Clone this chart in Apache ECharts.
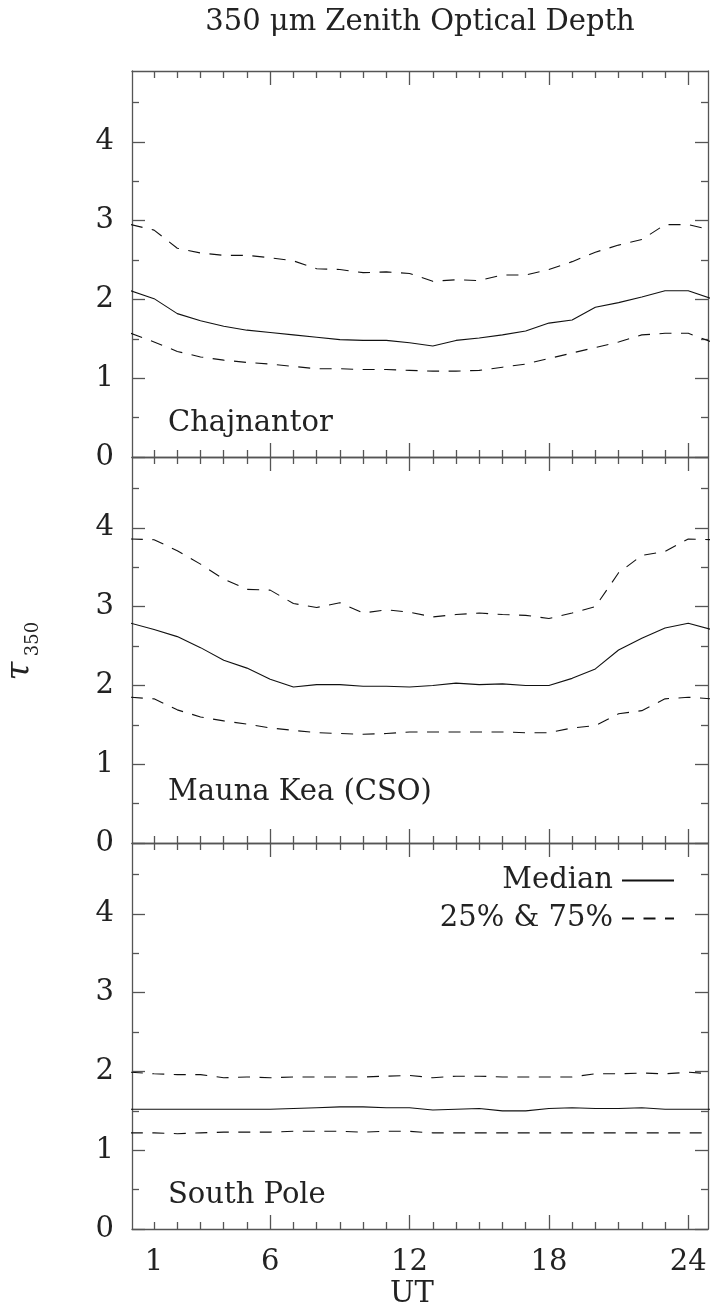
<!DOCTYPE html>
<html>
<head>
<meta charset="utf-8">
<script src="https://cdn.jsdelivr.net/npm/echarts@6/dist/echarts.min.js"></script>
<style>
html,body{margin:0;padding:0;background:#fff}
#chart{width:710px;height:1311px}
</style>
</head>
<body>
<div id="chart"></div>
<script>
// hourly values, UT 1..24
var chajMedian = [2.01,1.82,1.73,1.66,1.61,1.58,1.55,1.52,1.49,1.48,1.48,1.45,1.41,1.48,1.51,1.55,1.60,1.70,1.74,1.90,1.96,2.03,2.11,2.11];
var chajQ75 = [2.88,2.65,2.59,2.56,2.56,2.53,2.49,2.39,2.38,2.34,2.35,2.33,2.23,2.25,2.24,2.31,2.31,2.38,2.48,2.60,2.69,2.76,2.95,2.95];
var chajQ25 = [1.46,1.34,1.27,1.23,1.20,1.18,1.15,1.12,1.12,1.11,1.11,1.10,1.09,1.09,1.10,1.14,1.18,1.25,1.32,1.39,1.46,1.55,1.57,1.57];

var mkMedian = [2.71,2.62,2.48,2.32,2.22,2.08,1.98,2.01,2.01,1.99,1.99,1.98,2.00,2.03,2.01,2.02,2.00,2.00,2.09,2.21,2.45,2.60,2.73,2.79];
var mkQ75 = [3.85,3.71,3.54,3.35,3.22,3.21,3.04,2.99,3.05,2.92,2.96,2.93,2.87,2.90,2.92,2.90,2.89,2.85,2.92,3.00,3.43,3.65,3.70,3.86];
var mkQ25 = [1.83,1.69,1.60,1.55,1.51,1.46,1.43,1.40,1.39,1.38,1.39,1.41,1.41,1.41,1.41,1.41,1.40,1.40,1.46,1.49,1.64,1.68,1.83,1.85];

var spMedian = [1.52,1.52,1.52,1.52,1.52,1.52,1.53,1.54,1.55,1.55,1.54,1.54,1.51,1.52,1.53,1.50,1.50,1.53,1.54,1.53,1.53,1.54,1.52,1.52];
var spQ75 = [1.97,1.96,1.96,1.92,1.93,1.92,1.93,1.93,1.93,1.93,1.94,1.95,1.92,1.94,1.94,1.93,1.93,1.93,1.93,1.97,1.97,1.98,1.97,1.99];
var spQ25 = [1.22,1.21,1.22,1.23,1.23,1.23,1.24,1.24,1.24,1.23,1.24,1.24,1.22,1.22,1.22,1.22,1.22,1.22,1.22,1.22,1.22,1.22,1.22,1.22];

var sites = ['Chajnantor', 'Mauna Kea (CSO)', 'South Pole'];

// ticks / labels
var xMinor = [1,2,3,4,5,7,8,9,10,11,13,14,15,16,17,19,20,21,22,23];
var xMajor = [6,12,18,24];
var xLabels = [1,6,12,18,24];
var yMinor = [0.5,1.5,2.5,3.5,4.5];
var yMajor = [0,1,2,3,4];

var FONT = 'DejaVu Serif';
var FS = 29;
var TXT = '#222';
var INK = '#111';
var AXIS = '#555';

var chart = echarts.init(document.getElementById('chart'));

// day wraps round: hour 0 = hour 24, hour 25 = hour 1
function wrap(v){
    var out = [[0, v[23]]];
    for (var i = 0; i < v.length; i++) out.push([i + 1, v[i]]);
    out.push([25, v[0]]);
    return out;
}

var grids = [], xAxes = [], yAxes = [], series = [];
var panelTop = [71, 457, 843];

function xAx(g, pos, ticks, len, line, labels){
    return {
        type: 'value', gridIndex: g, position: pos, min: 0.05, max: 24.85,
        splitLine: {show: false},
        axisLine: {show: line, onZero: false, lineStyle: {color: AXIS, width: 1.3}},
        axisTick: {show: true, inside: true, length: len, customValues: ticks, lineStyle: {color: AXIS, width: 1.3}},
        axisLabel: {show: labels, customValues: xLabels, margin: 19, fontFamily: FONT, fontSize: FS, color: TXT}
    };
}
function yAx(g, pos, ticks, len, line, labels){
    return {
        type: 'value', gridIndex: g, position: pos, min: 0, max: 4.9,
        splitLine: {show: false},
        axisLine: {show: line, onZero: false, lineStyle: {color: AXIS, width: 1.3}},
        axisTick: {show: true, inside: true, length: len, customValues: ticks, lineStyle: {color: AXIS, width: 1.3}},
        axisLabel: {show: labels, customValues: yMajor, margin: 18, fontFamily: FONT, fontSize: FS, color: TXT}
    };
}

var data = [[chajMedian, chajQ75, chajQ25], [mkMedian, mkQ75, mkQ25], [spMedian, spQ75, spQ25]];

for (var g = 0; g < 3; g++) {
    grids.push({left: 132, width: 576, top: panelTop[g], height: 386});
    xAxes.push(xAx(g, 'bottom', xMinor, 7, true, g === 2));
    xAxes.push(xAx(g, 'bottom', xMajor, 14, false, false));
    xAxes.push(xAx(g, 'top', xMinor, 7, true, false));
    xAxes.push(xAx(g, 'top', xMajor, 14, false, false));
    yAxes.push(yAx(g, 'left', yMajor, 13, true, true));
    yAxes.push(yAx(g, 'left', yMinor, 7, false, false));
    yAxes.push(yAx(g, 'right', yMajor, 13, true, false));
    yAxes.push(yAx(g, 'right', yMinor, 7, false, false));

    var names = ['Median', '25% & 75%', '25% & 75%'];
    for (var s = 0; s < 3; s++) {
        series.push({
            type: 'line', name: names[s],
            xAxisIndex: g * 4, yAxisIndex: g * 4,
            data: wrap(data[g][s]),
            symbol: 'none', animation: false, silent: true,
            itemStyle: {color: INK},
            lineStyle: {color: INK, width: 1.1, type: s === 0 ? 'solid' : [12, 9.5]}
        });
    }
}

var font = FS + 'px "' + FONT + '"';
var graphics = [
    {type: 'text', x: 420, y: 22, style: {text: '350 μm Zenith Optical Depth', font: font, fill: TXT, align: 'center', verticalAlign: 'middle'}},
    {type: 'text', x: 412, y: 1294, style: {text: 'UT', font: font, fill: TXT, align: 'center', verticalAlign: 'middle'}},
    {type: 'text', x: 20, y: 671, rotation: Math.PI / 2, style: {text: 'τ', font: 'italic 34px "DejaVu Serif"', fill: TXT, align: 'center', verticalAlign: 'middle'}},
    {type: 'text', x: 33, y: 639, rotation: Math.PI / 2, style: {text: '350', font: '18px "DejaVu Serif"', fill: TXT, align: 'center', verticalAlign: 'middle'}}
];
var labelY = [423, 792, 1195];
for (var i = 0; i < 3; i++) {
    graphics.push({type: 'text', x: 168, y: labelY[i], style: {text: sites[i], font: font, fill: TXT, align: 'left', verticalAlign: 'middle'}});
}

chart.setOption({
    backgroundColor: '#fff',
    animation: false,
    grid: grids,
    xAxis: xAxes,
    yAxis: yAxes,
    legend: {
        data: ['Median', '25% & 75%'],
        orient: 'vertical', align: 'right',
        right: 30, top: 861,
        itemWidth: 52, itemHeight: 14, itemGap: 9,
        selectedMode: false,
        itemStyle: {opacity: 0},
        textStyle: {fontFamily: FONT, fontSize: FS, color: TXT, padding: [0, 4, 0, 0]}
    },
    series: series,
    graphic: graphics
});
</script>
</body>
</html>
